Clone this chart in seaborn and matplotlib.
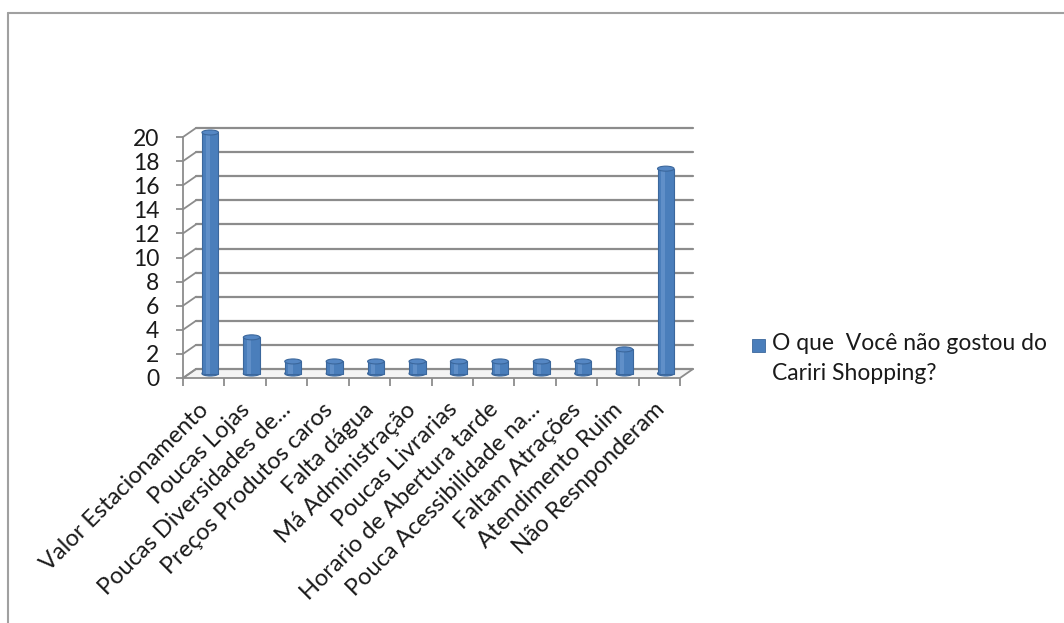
import matplotlib
matplotlib.use("Agg")
import matplotlib.pyplot as plt
import matplotlib.transforms as mtransforms
from matplotlib.lines import Line2D
from matplotlib.patches import Polygon, Ellipse, Rectangle
import seaborn as sns
import pandas as pd

categories = [
    "Valor Estacionamento",
    "Poucas Lojas",
    "Poucas Diversidades de...",
    "Preços Produtos caros",
    "Falta dágua",
    "Má Administração",
    "Poucas Livrarias",
    "Horario de Abertura tarde",
    "Pouca Acessibilidade na...",
    "Faltam Atrações",
    "Atendimento Ruim",
    "Não Resnponderam",
]
values = [20, 3, 1, 1, 1, 1, 1, 1, 1, 1, 2, 17]
series_name = "O que  Você não gostou do\nCariri Shopping?"
y_ticks = list(range(0, 21, 2))

BAR_BLUE = "#4A7EBB"
BAR_EDGE = "#3B679C"
GRID_GRAY = "#8C8C8C"
TEXT_COLOR = "#1A1A1A"

sns.set_theme(style="white")
plt.rcParams["font.family"] = ["Lato", "DejaVu Sans"]

W, H, DPI = 1064, 623, 100
fig = plt.figure(figsize=(W / DPI, H / DPI), dpi=DPI)
fig.patch.set_facecolor("white")

# front plane of the 3-D plot box (pixel layout)
left_px, right_px = 183, 680
zero_px, top_px = 378, 137
ax = fig.add_axes([left_px / W, (H - zero_px) / H,
                   (right_px - left_px) / W, (zero_px - top_px) / H])
ax.set_facecolor("none")

n = len(categories)
ax.set_xlim(-0.5, n - 0.5)
ax.set_ylim(0, 20)

# depth of the box in pixels (back wall is shifted right/up)
depth_dx, depth_dy = 13 / DPI, 9 / DPI
back = ax.transData + mtransforms.ScaledTranslation(depth_dx, depth_dy, fig.dpi_scale_trans)
mid = ax.transData + mtransforms.ScaledTranslation(depth_dx / 2, depth_dy / 2, fig.dpi_scale_trans)

px_per_cat = (right_px - left_px) / n
px_per_unit = (zero_px - top_px) / 20
ddx = 13 / px_per_cat
ddy = 9 / px_per_unit

# floor
floor = Polygon([(-0.5, 0), (n - 0.5, 0), (n - 0.5 + ddx, ddy), (-0.5 + ddx, ddy)],
                closed=True, facecolor="#F4F4F4", edgecolor=GRID_GRAY, lw=1.3,
                clip_on=False, zorder=0.5)
ax.add_patch(floor)

# back-wall gridlines and left-wall depth lines
for v in y_ticks:
    ax.plot([-0.5, n - 0.5], [v, v], color=GRID_GRAY, lw=1.6,
            transform=back, clip_on=False, zorder=0.6)
    ax.plot([-0.5, -0.5 + ddx], [v, v + ddy], color=GRID_GRAY, lw=1.3,
            clip_on=False, zorder=0.6)

df = pd.DataFrame({"categoria": categories, "valor": values})
sns.barplot(data=df, x="categoria", y="valor", order=categories, color=BAR_BLUE,
            width=0.4, saturation=1, edgecolor=BAR_EDGE, linewidth=0.8, ax=ax, zorder=2)

# cylinder look: shift bars to mid-depth, add caps and highlights
cap_h = 5 / px_per_unit
for bar in list(ax.patches):
    if not isinstance(bar, Rectangle) or bar.get_height() <= 0:
        continue
    bar.set_transform(mid)
    bar.set_clip_on(False)
    x0, w, h = bar.get_x(), bar.get_width(), bar.get_height()
    hl = Rectangle((x0 + w * 0.22, 0), w * 0.25, h, facecolor="#6A97CE",
                   edgecolor="none", transform=mid, clip_on=False, zorder=2.1, alpha=0.7)
    ax.add_patch(hl)
    base = Ellipse((x0 + w / 2, 0), w, cap_h, facecolor=BAR_BLUE, edgecolor=BAR_EDGE,
                   lw=0.8, transform=mid, clip_on=False, zorder=1.9)
    ax.add_patch(base)
    cap = Ellipse((x0 + w / 2, h), w, cap_h, facecolor="#5587C4", edgecolor=BAR_EDGE,
                  lw=0.8, transform=mid, clip_on=False, zorder=2.2)
    ax.add_patch(cap)

# axes styling
for s in ["top", "right", "bottom"]:
    ax.spines[s].set_visible(False)
ax.spines["left"].set_color(GRID_GRAY)
ax.spines["left"].set_linewidth(1.3)
ax.set_yticks(y_ticks)
ax.set_yticklabels([str(v) for v in y_ticks])
ax.tick_params(axis="y", left=True, length=5, width=1.3, color=GRID_GRAY,
               labelsize=16.5, labelcolor=TEXT_COLOR, pad=12)
ax.set_xticks(range(n))
ax.set_xticks([i - 0.5 for i in range(n + 1)], minor=True)
ax.tick_params(axis="x", which="major", length=0, pad=15)
ax.tick_params(axis="x", which="minor", bottom=True, length=6, width=1.3, color=GRID_GRAY)
ax.set_xticklabels(categories, rotation=45, ha="right", rotation_mode="anchor",
                   fontsize=17, color=TEXT_COLOR)
for lbl in ax.get_xticklabels():
    lbl.set_transform(lbl.get_transform() + mtransforms.ScaledTranslation(-6 / DPI, 0, fig.dpi_scale_trans))
ax.set_xlabel("")
ax.set_ylabel("")
ax.grid(False)

# legend: square key beside the first line of the series name
key_x, key_y, key_s = 752 / W, 1 - 352 / H, 13
fig.add_artist(Rectangle((key_x, key_y), key_s / W, key_s / H, transform=fig.transFigure,
                         facecolor=BAR_BLUE, edgecolor=BAR_EDGE, lw=0.6))
fig.text(772 / W, 1 - 333 / H, series_name, ha="left", va="top", fontsize=16.5,
         color=TEXT_COLOR, linespacing=1.5)

# chart-area border
fig.add_artist(Line2D([8 / W, 8 / W], [0, 1 - 13 / H], transform=fig.transFigure,
                      color="#A0A0A0", lw=1.5))
fig.add_artist(Line2D([8 / W, 1], [1 - 13 / H, 1 - 13 / H], transform=fig.transFigure,
                      color="#A0A0A0", lw=1.5))

fig.savefig("out.png", dpi=DPI)
